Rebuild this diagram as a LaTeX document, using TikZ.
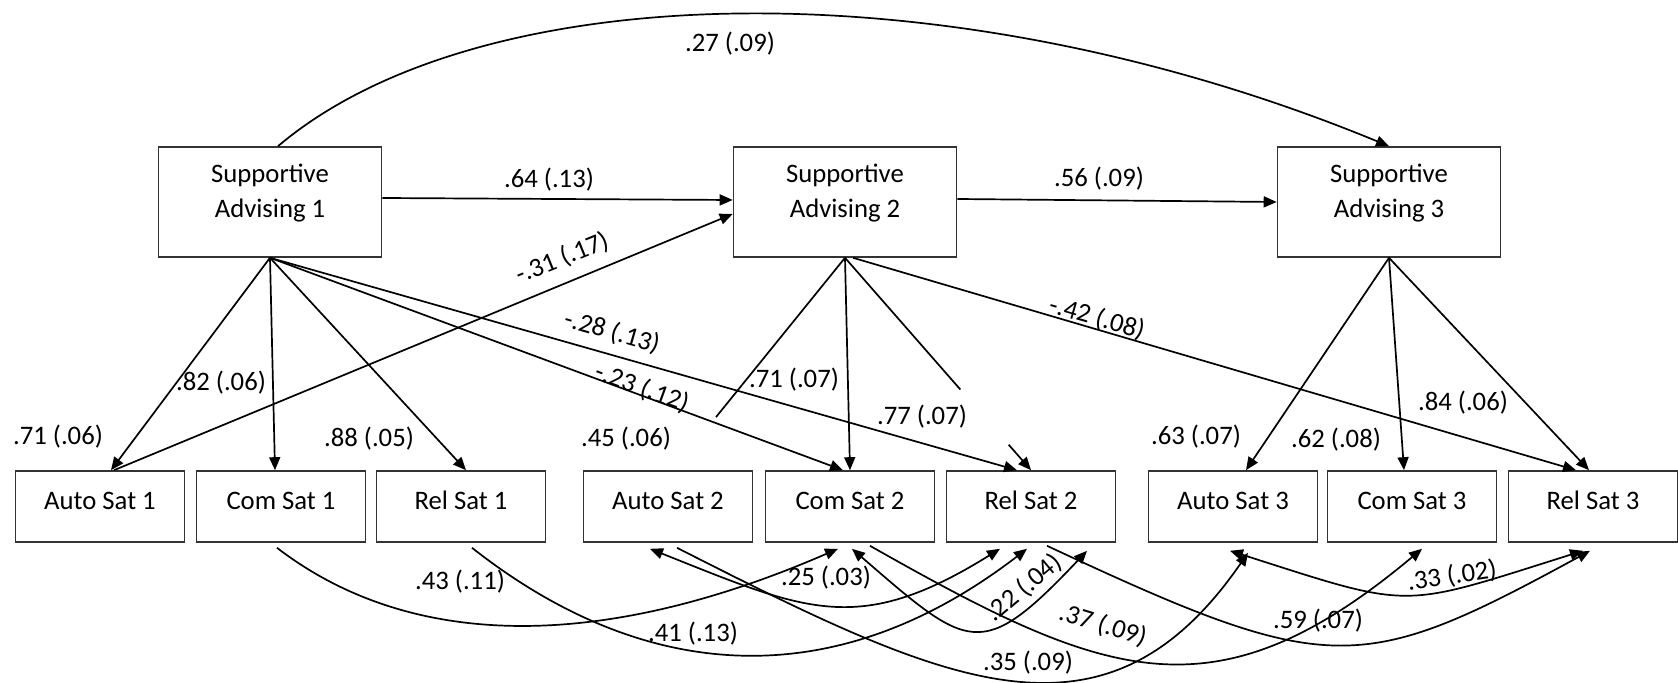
\documentclass[tikz,border=0pt]{standalone}
\usepackage{fontspec}
\setmainfont{Carlito}
\usetikzlibrary{arrows.meta,calc}

\tikzset{
  txt/.style={font=\fontsize{13.35}{17.5}\selectfont, inner sep=1pt},
  advbox/.style={draw=black!80, line width=.8pt, minimum width=111.5pt, minimum height=55pt,
    label={[txt, align=center, yshift=4.5pt]center:#1}},
  satbox/.style={draw=black!80, line width=.8pt, minimum width=84.5pt, minimum height=35.5pt,
    label={[txt, yshift=3pt]center:#1}},
  coef/.style={txt},
  arr/.style={-{Triangle[length=6.5pt,width=5.5pt]}, line width=.85pt},
  dbl/.style={{Triangle[length=6.5pt,width=5.5pt]}-{Triangle[length=6.5pt,width=5.5pt]}, line width=.85pt},
  ln/.style={line width=.85pt},
}

\begin{document}
\begin{tikzpicture}[x=.5pt,y=-.5pt]
  \useasboundingbox (0,0) rectangle (1678,683);
  % advising boxes
  \node[advbox={Supportive\\Advising 1}] (sa1) at (270,202) {};
  \node[advbox={Supportive\\Advising 2}] (sa2) at (845,202) {};
  \node[advbox={Supportive\\Advising 3}] (sa3) at (1389,202) {};
  % satisfaction boxes
  \node[satbox={Auto Sat 1}] (as1) at (100,506.5) {};
  \node[satbox={Com Sat 1}] (cs1) at (281,506.5) {};
  \node[satbox={Rel Sat 1}] (rs1) at (461,506.5) {};
  \node[satbox={Auto Sat 2}] (as2) at (668,506.5) {};
  \node[satbox={Com Sat 2}] (cs2) at (850,506.5) {};
  \node[satbox={Rel Sat 2}] (rs2) at (1031,506.5) {};
  \node[satbox={Auto Sat 3}] (as3) at (1233,506.5) {};
  \node[satbox={Com Sat 3}] (cs3) at (1412,506.5) {};
  \node[satbox={Rel Sat 3}] (rs3) at (1593,506.5) {};

  % stability of advising
  \draw[arr] ($(sa1.east)+(0,-4)$) -- ($(sa2.west)+(0,-2)$);
  \draw[arr] ($(sa2.east)+(0,-3)$) -- (sa3.west);
  \draw[arr] ($(sa1.north)+(8,0)$) .. controls (480,-25) and (950,-35) .. (sa3.north);

  % loadings and cross paths, time 1
  \draw[arr] (sa1.south) -- ($(as1.north)+(11,0)$);
  \draw[arr] (sa1.south) -- ($(cs1.north)+(-6,0)$);
  \draw[arr] (sa1.south) -- ($(rs1.north)+(5,0)$);
  \draw[arr] (sa1.south) -- ($(cs2.north)+(-7,0)$);
  \draw[arr] (sa1.south) -- ($(rs2.north)+(-14,0)$);
  \draw[arr] ($(as1.north)+(14,0)$) -- ($(sa2.west)+(0,12)$);

  % time 2
  \coordinate (as2t) at ($(as2.north)+(5,0)$);
  \draw[ln] (sa2.south) -- ($(sa2.south)!.75!(as2t)$);
  \draw[arr] (sa2.south) -- (cs2.north);
  \draw[ln] (sa2.south) -- ($(sa2.south)!.62!(rs2.north)$);
  \draw[arr] ($(sa2.south)!.88!(rs2.north)$) -- (rs2.north);
  \draw[arr] ($(sa2.south)+(8,0)$) -- ($(rs3.north)+(-17,0)$);

  % time 3
  \draw[arr] (sa3.south) -- ($(as3.north)+(13,0)$);
  \draw[arr] (sa3.south) -- ($(cs3.north)+(-8,0)$);
  \draw[arr] (sa3.south) -- ($(rs3.north)+(-4,0)$);

  % satisfaction paths and covariances
  \draw[arr] ($(cs1.south)+(-4,5)$) .. controls (410,650) and (600,652) .. ($(cs2.south)+(-12,6)$);
  \draw[arr] ($(rs1.south)+(11,5)$) .. controls (640,680) and (830,700) .. ($(rs2.south)+(-4,6)$);
  \draw[dbl] ($(as2.south)+(-18,6)$) .. controls (806,611) and (858,637) .. ($(rs2.south)+(-31,6)$);
  \draw[dbl] ($(cs2.south)+(2,6)$) .. controls (969,650) and (981,663) .. ($(rs2.south)+(56,8)$);
  \draw[arr] ($(as2.south)+(9,5)$) .. controls (947,685) and (1105,760) .. ($(as3.south)+(15,10)$);
  \draw[arr] ($(cs2.south)+(20,3)$) .. controls (1105,679) and (1214,723) .. ($(cs3.south)+(10,6)$);
  \draw[arr] ($(rs2.south)+(16,3)$) .. controls (1330,678) and (1360,676) .. ($(rs3.south)+(-3,8)$);
  \draw[dbl] ($(as3.south)+(-3,8)$) .. controls (1415,610) and (1398,609) .. ($(rs3.south)+(-10,8)$);

  % coefficients
  \node[coef] (c27) at (730,44) {.27 (.09)};
  \node[coef] (c64) at (549,180) {.64 (.13)};
  \node[coef] (c56) at (1099,179) {.56 (.09)};
  \node[coef, rotate=22] (c31) at (562,258) {-.31 (.17)};
  \node[coef] (c82) at (221,383) {.82 (.06)};
  \node[coef] (c71a) at (58,437) {.71 (.06)};
  \node[coef] (c88) at (369,439) {.88 (.05)};
  \node[coef, rotate=-16] (c28) at (612,332) {-.28 (.13)};
  \node[coef, rotate=-20] (c23) at (642,388) {-.23 (.12)};
  \node[coef] (c45) at (626,439) {.45 (.06)};
  \node[coef] (c71b) at (794,380) {.71 (.07)};
  \node[coef] (c77) at (922,417) {.77 (.07)};
  \node[coef, rotate=-16] (c42) at (1097,318) {-.42 (.08)};
  \node[coef] (c63) at (1196,437) {.63 (.07)};
  \node[coef] (c62) at (1336,440) {.62 (.08)};
  \node[coef] (c84) at (1463,403) {.84 (.06)};
  \node[coef] (c43) at (460,582) {.43 (.11)};
  \node[coef] (c41) at (693,634) {.41 (.13)};
  \node[coef] (c25) at (826,578) {.25 (.03)};
  \node[coef, rotate=40] (c22) at (1024,588) {.22 (.04)};
  \node[coef, rotate=-17] (c37) at (1103,625) {.37 (.09)};
  \node[coef] (c35) at (1028,663) {.35 (.09)};
  \node[coef] (c59) at (1318,621) {.59 (.07)};
  \node[coef, rotate=8] (c33) at (1452,576) {.33 (.02)};
\end{tikzpicture}
\end{document}
